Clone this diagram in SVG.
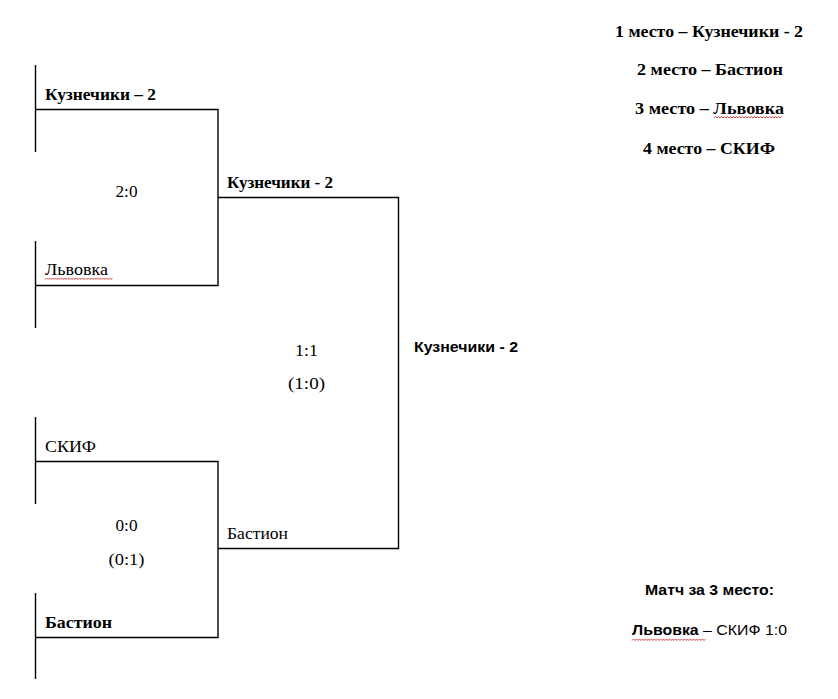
<svg xmlns="http://www.w3.org/2000/svg" width="838" height="699" viewBox="0 0 838 699">
<style>
.ln{stroke:#000;stroke-width:1.4;fill:none}
.t{font-family:"Liberation Serif","Times New Roman",serif;font-size:17px;fill:#000}
.b{font-weight:bold}
.s{font-family:"Liberation Sans",Arial,sans-serif;font-size:14.5px;fill:#000}
.c{text-anchor:middle}
.wave{stroke:#d03030;stroke-width:0.9;fill:none}
</style>
<rect width="838" height="699" fill="#fff"/>
<g id="connectors">
<path class="ln" d="M35.5 65V152"/>
<path class="ln" d="M35.5 241V328"/>
<path class="ln" d="M35.5 109.5H218V285.5H35.5"/>
<path class="ln" d="M218 197.5H398.5V548.5H218"/>
<path class="ln" d="M35.5 417V504"/>
<path class="ln" d="M35.5 593V679"/>
<path class="ln" d="M35.5 461.5H218V637.5H35.5"/>
</g>
<g id="node-kuz1"><text class="t b" x="45" y="100" textLength="111" lengthAdjust="spacingAndGlyphs">Кузнечики – 2</text></g>
<g id="node-lvovka1"><text class="t" x="45" y="275" textLength="63" lengthAdjust="spacingAndGlyphs">Львовка</text>
<path class="wave" d="M45 279.5l1.5-1.5 1.5 1.5 1.5-1.5 1.5 1.5 1.5-1.5 1.5 1.5 1.5-1.5 1.5 1.5 1.5-1.5 1.5 1.5 1.5-1.5 1.5 1.5 1.5-1.5 1.5 1.5 1.5-1.5 1.5 1.5 1.5-1.5 1.5 1.5 1.5-1.5 1.5 1.5 1.5-1.5 1.5 1.5 1.5-1.5 1.5 1.5 1.5-1.5 1.5 1.5 1.5-1.5 1.5 1.5 1.5-1.5 1.5 1.5 1.5-1.5 1.5 1.5 1.5-1.5 1.5 1.5 1.5-1.5 1.5 1.5 1.5-1.5 1.5 1.5 1.5-1.5 1.5 1.5 1.5-1.5 1.5 1.5 1.5-1.5 1.5 1.5 1.5-1.5"/></g>
<g id="score-1"><text class="t c" x="126.5" y="197" textLength="22" lengthAdjust="spacingAndGlyphs">2:0</text></g>
<g id="node-kuz2"><text class="t b" x="227" y="188" textLength="106" lengthAdjust="spacingAndGlyphs">Кузнечики - 2</text></g>
<g id="score-final"><text class="t c" x="306.5" y="356" textLength="23" lengthAdjust="spacingAndGlyphs">1:1</text><text class="t c" x="306.5" y="389" textLength="37" lengthAdjust="spacingAndGlyphs">(1:0)</text></g>
<g id="node-champion"><text class="s b" x="414" y="352" textLength="104" lengthAdjust="spacingAndGlyphs">Кузнечики - 2</text></g>
<g id="node-skif"><text class="t" x="45" y="452" textLength="51" lengthAdjust="spacingAndGlyphs">СКИФ</text></g>
<g id="score-2"><text class="t c" x="126.5" y="531" textLength="22" lengthAdjust="spacingAndGlyphs">0:0</text><text class="t c" x="126.5" y="565" textLength="36" lengthAdjust="spacingAndGlyphs">(0:1)</text></g>
<g id="node-bastion2"><text class="t" x="227" y="539" textLength="61" lengthAdjust="spacingAndGlyphs">Бастион</text></g>
<g id="node-bastion1"><text class="t b" x="45" y="628" textLength="67" lengthAdjust="spacingAndGlyphs">Бастион</text></g>
<g id="standings">
<text class="t b" x="615" y="37" textLength="188" lengthAdjust="spacingAndGlyphs">1 место – Кузнечики - 2</text>
<text class="t b" x="637" y="75" textLength="146" lengthAdjust="spacingAndGlyphs">2 место – Бастион</text>
<text class="t b" x="635" y="114" textLength="149" lengthAdjust="spacingAndGlyphs">3 место – Львовка</text>
<path class="wave" d="M714 118l1.5-1.5 1.5 1.5 1.5-1.5 1.5 1.5 1.5-1.5 1.5 1.5 1.5-1.5 1.5 1.5 1.5-1.5 1.5 1.5 1.5-1.5 1.5 1.5 1.5-1.5 1.5 1.5 1.5-1.5 1.5 1.5 1.5-1.5 1.5 1.5 1.5-1.5 1.5 1.5 1.5-1.5 1.5 1.5 1.5-1.5 1.5 1.5 1.5-1.5 1.5 1.5 1.5-1.5 1.5 1.5 1.5-1.5 1.5 1.5 1.5-1.5 1.5 1.5 1.5-1.5 1.5 1.5 1.5-1.5 1.5 1.5 1.5-1.5 1.5 1.5 1.5-1.5 1.5 1.5 1.5-1.5 1.5 1.5 1.5-1.5 1.5 1.5 1.5-1.5"/>
<text class="t b" x="643" y="154" textLength="132" lengthAdjust="spacingAndGlyphs">4 место – СКИФ</text>
</g>
<g id="third-place">
<text class="s b" x="645" y="595" textLength="129" lengthAdjust="spacingAndGlyphs">Матч за 3 место:</text>
<text class="s" x="632" y="635" textLength="155" lengthAdjust="spacingAndGlyphs"><tspan font-weight="bold">Львовка</tspan> – СКИФ 1:0</text>
<path class="wave" d="M632 640.5l1.5-1.5 1.5 1.5 1.5-1.5 1.5 1.5 1.5-1.5 1.5 1.5 1.5-1.5 1.5 1.5 1.5-1.5 1.5 1.5 1.5-1.5 1.5 1.5 1.5-1.5 1.5 1.5 1.5-1.5 1.5 1.5 1.5-1.5 1.5 1.5 1.5-1.5 1.5 1.5 1.5-1.5 1.5 1.5 1.5-1.5 1.5 1.5 1.5-1.5 1.5 1.5 1.5-1.5 1.5 1.5 1.5-1.5 1.5 1.5 1.5-1.5 1.5 1.5 1.5-1.5 1.5 1.5 1.5-1.5 1.5 1.5 1.5-1.5 1.5 1.5 1.5-1.5 1.5 1.5 1.5-1.5 1.5 1.5 1.5-1.5 1.5 1.5 1.5-1.5 1.5 1.5 1.5-1.5 1.5 1.5 1.5-1.5"/>
</g>
</svg>
